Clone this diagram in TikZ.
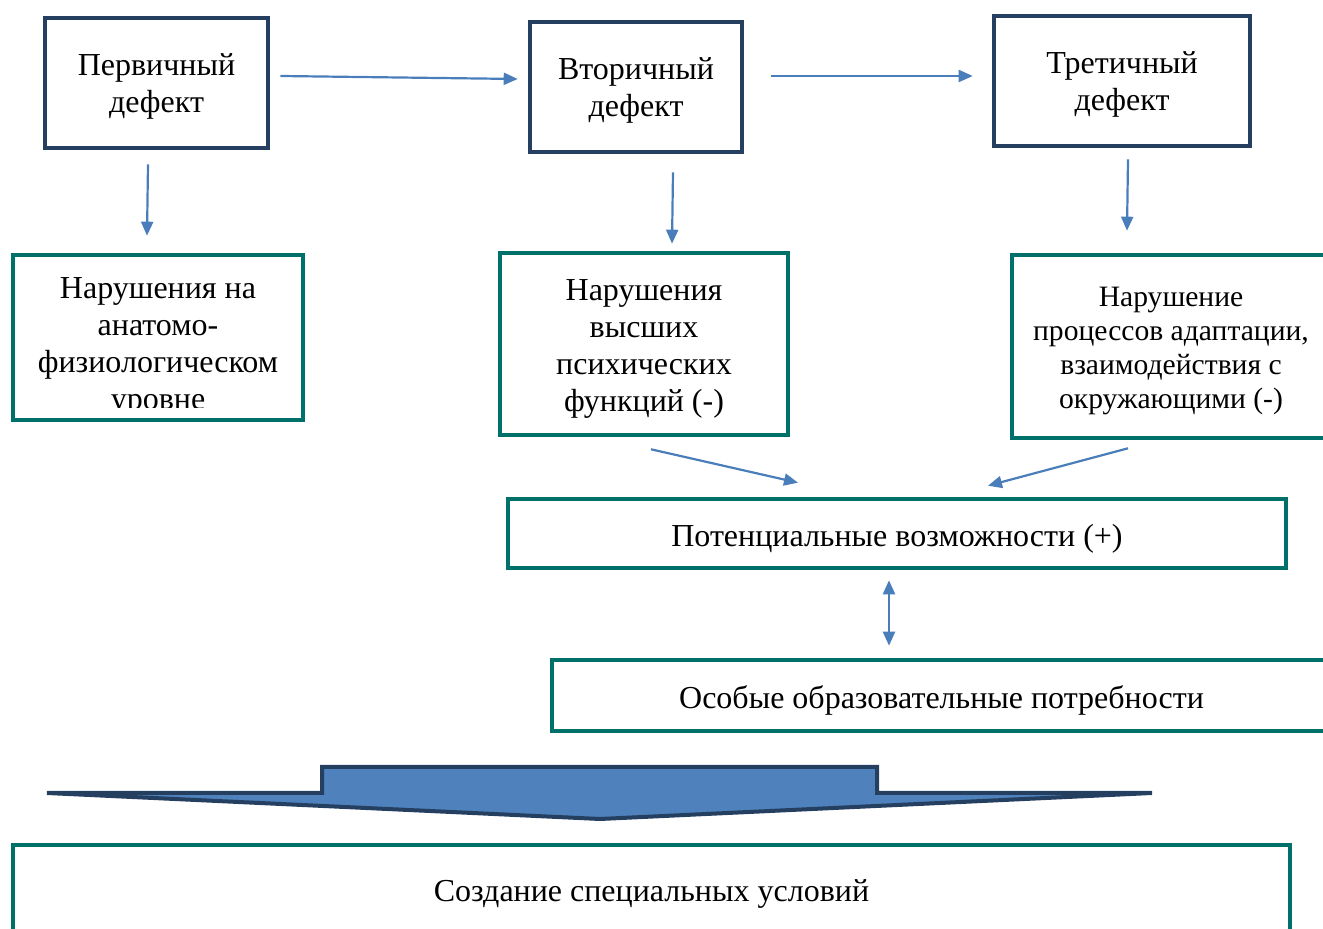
\documentclass[tikz,border=0pt]{standalone}
\usepackage{fontspec}
\setmainfont{Liberation Serif}
\usetikzlibrary{arrows.meta}
\definecolor{navy}{HTML}{243F60}
\definecolor{tealb}{HTML}{00706B}
\definecolor{arrblue}{HTML}{4A7EBB}
\definecolor{fillblue}{HTML}{4F81BD}
\begin{document}
\begin{tikzpicture}[x=0.5pt,y=-0.5pt,
  dbox/.style={draw=navy,line width=2.3pt,inner sep=0pt},
  tbox/.style={draw=tealb,line width=2.3pt,inner sep=0pt},
  txt/.style={font=\fontsize{16}{18.5}\selectfont,align=center,inner sep=0pt},
  stxt/.style={font=\fontsize{14.8}{17}\selectfont,align=center,inner sep=0pt},
  arr/.style={draw=arrblue,line width=1.1pt,-{Triangle[length=7pt,width=6pt]}},
  darr/.style={draw=arrblue,line width=1.1pt,{Triangle[length=7pt,width=6pt]}-{Triangle[length=7pt,width=6pt]}},
  bigarrow/.style={draw=navy,fill=fillblue,line width=2pt,line join=miter}]
\useasboundingbox (0,0) rectangle (1323,929);
\clip (0,0) rectangle (1323,929);

% top row
\node[dbox,minimum width=111.5pt,minimum height=65pt,
  label={[txt,yshift=-1.5pt]center:Первичный\\дефект}] (p) at (156.5,83) {};
\node[dbox,minimum width=106pt,minimum height=65pt,
  label={[txt,yshift=-1.5pt]center:Вторичный\\дефект}] (v) at (636,87) {};
\node[dbox,minimum width=128pt,minimum height=65pt,
  label={[txt,yshift=-1.5pt]center:Третичный\\дефект}] (t) at (1122,81) {};

% second row
\node[tbox,minimum width=145pt,minimum height=82.5pt] (n1) at (158,337.5) {};
\begin{scope}
  \clip (16,258) rectangle (300,407.5);
  \node[txt] (n1t) at (158,346.5) {Нарушения на\\анатомо-\\физиологическом\\уровне};
\end{scope}
\node[tbox,minimum width=144pt,minimum height=91pt,
  label={[txt,yshift=-2.5pt]center:Нарушения\\высших\\психических\\функций (-)}] (m) at (644,344) {};
\node[tbox,minimum width=159pt,minimum height=91.5pt,
  label={[stxt,yshift=-2.5pt]center:Нарушение\\процессов адаптации{,}\\взаимодействия с\\окружающими (-)}] (r) at (1171,346.5) {};

% lower boxes
\node[tbox,minimum width=389pt,minimum height=34.5pt,
  label={[txt,yshift=-2.5pt]center:Потенциальные возможности (+)}] (pot) at (897,533.5) {};
\node[tbox,minimum width=389.5pt,minimum height=35.5pt,
  label={[txt,yshift=-2.5pt]center:Особые образовательные потребности}] (o) at (941.5,695.5) {};
\node[tbox,minimum width=638.5pt,minimum height=47.5pt,
  label={[txt,yshift=-0.5pt]center:Создание специальных условий}] (s) at (651.5,892.5) {};

% big arrow
\draw[bigarrow] (47,793) -- (322,793) -- (322,767) -- (877,767) -- (877,793) -- (1152,793) -- (600,819) -- cycle;

% connectors
\draw[arr] ([shift={(10,-7)}]p.east) -- ([shift={(-10,-8)}]v.west);
\draw[arr] ([shift={(27,-11)}]v.east) -- ([shift={(-19,-5)}]t.west);
\draw[arr] ([shift={(-8.5,14)}]p.south) -- ([shift={(-11,-17)}]n1.north);
\draw[arr] ([shift={(37,18)}]v.south) -- ([shift={(28,-7)}]m.north);
\draw[arr] ([shift={(6,11)}]t.south) -- ([shift={(-44,-22)}]r.north);
\draw[arr] ([shift={(7,12)}]m.south) -- ([shift={(-99,-14)}]pot.north);
\draw[arr] ([shift={(-43,8)}]r.south) -- ([shift={(91,-11)}]pot.north);
\draw[darr] ([shift={(-8,10)}]pot.south) -- ([shift={(-52.5,-12)}]o.north);
\end{tikzpicture}
\end{document}
